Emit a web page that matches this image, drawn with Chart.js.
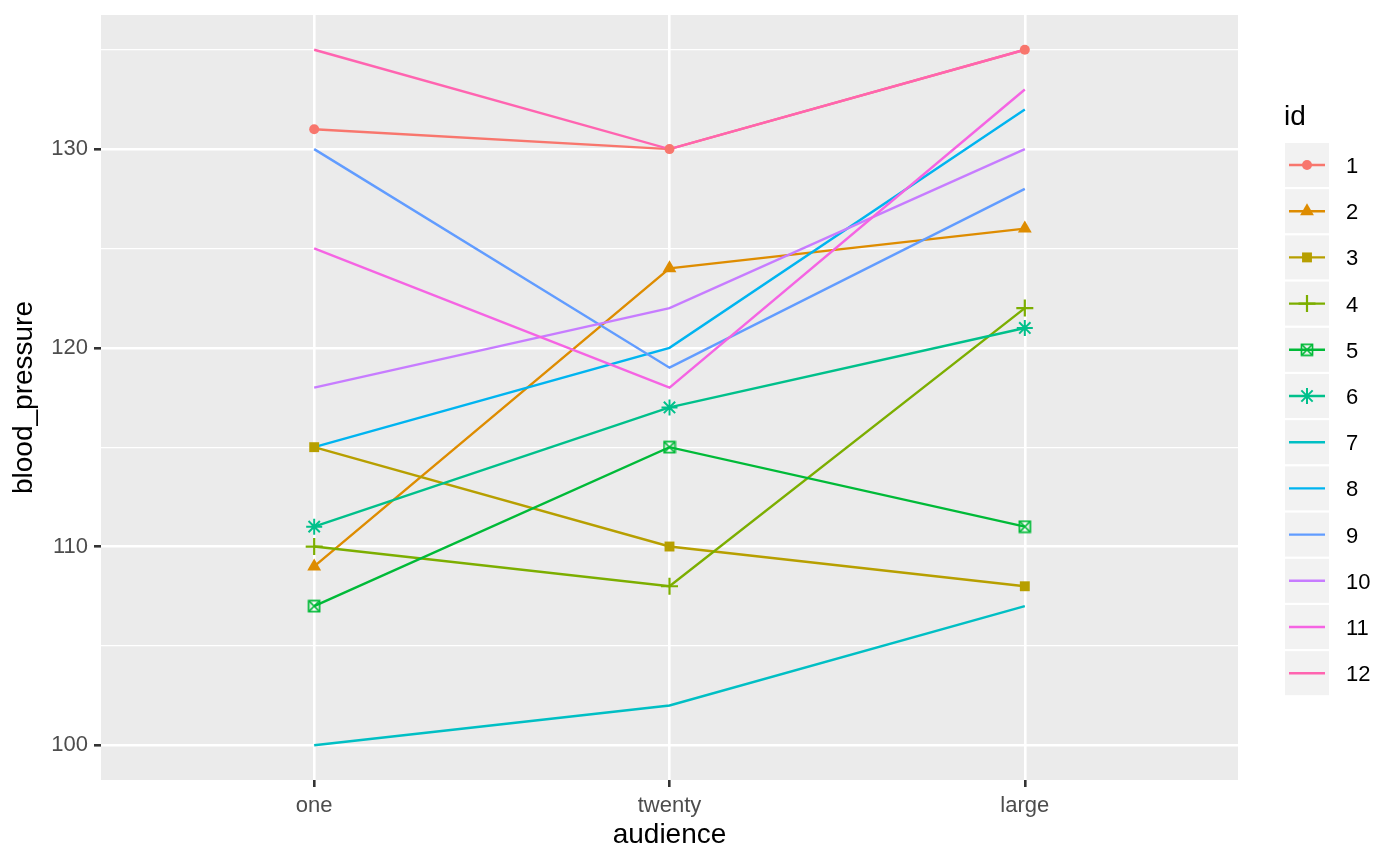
<!DOCTYPE html>
<html>
<head>
<meta charset="utf-8">
<script src="https://cdn.jsdelivr.net/npm/chart.js@4.4.1/dist/chart.umd.min.js"></script>
<style>
html,body{margin:0;padding:0;background:#ffffff;}
#wrap{width:1400px;height:865px;position:relative;}
</style>
</head>
<body>
<div id="wrap"><canvas id="c" width="1400" height="865"></canvas></div>
<script>
// ---- data ----
const categories = ['one', 'twenty', 'large'];
const ids = ['1','2','3','4','5','6','7','8','9','10','11','12'];
const bp1  = [131, 130, 135];
const bp2  = [109, 124, 126];
const bp3  = [115, 110, 108];
const bp4  = [110, 108, 122];
const bp5  = [107, 115, 111];
const bp6  = [111, 117, 121];
const bp7  = [100, 102, 107];
const bp8  = [115, 120, 132];
const bp9  = [130, 119, 128];
const bp10 = [118, 122, 130];
const bp11 = [125, 118, 133];
const bp12 = [135, 130, 135];
const yMajorTicks = [100, 110, 120, 130];
const yMinorTicks = [105, 115, 125, 135];

// ---- styling ----
const series = [bp1,bp2,bp3,bp4,bp5,bp6,bp7,bp8,bp9,bp10,bp11,bp12];
const colors = ['#F8766D','#DE8C00','#B79F00','#7CAE00','#00BA38','#00C08B',
                '#00BFC4','#00B4F0','#619CFF','#C77CFF','#F564E3','#FF64B0'];
const shapes = ['circle','triangle','square','plus','squarecross','asterisk',null,null,null,null,null,null];
const FONT = "'Liberation Sans', Arial, Helvetica, sans-serif";
Chart.defaults.font.family = FONT;

function makeSquareCross(color){
  const cv = document.createElement('canvas');
  cv.width = 14; cv.height = 14;
  const g = cv.getContext('2d');
  g.strokeStyle = color; g.lineWidth = 1.7;
  g.strokeRect(1.5, 1.5, 11, 11);
  g.beginPath();
  g.moveTo(1.5,1.5); g.lineTo(12.5,12.5);
  g.moveTo(12.5,1.5); g.lineTo(1.5,12.5);
  g.stroke();
  return cv;
}
const sqCross = makeSquareCross(colors[4]);

function pointOpts(shape, color){
  switch(shape){
    case 'circle': return {pointStyle:'circle', pointRadius:5, pointBackgroundColor:color, pointBorderColor:color, pointBorderWidth:0};
    case 'triangle': return {pointStyle:'triangle', pointRadius:8, pointBackgroundColor:color, pointBorderColor:color, pointBorderWidth:0};
    case 'square': return {pointStyle:'rect', pointRadius:7, pointBackgroundColor:color, pointBorderColor:color, pointBorderWidth:0};
    case 'plus': return {pointStyle:'cross', pointRadius:8.5, pointBackgroundColor:color, pointBorderColor:color, pointBorderWidth:2.2};
    case 'squarecross': return {pointStyle:sqCross, pointRadius:7, pointBackgroundColor:color, pointBorderColor:color, pointBorderWidth:0};
    case 'asterisk': return {pointStyle:'star', pointRadius:8, pointBackgroundColor:color, pointBorderColor:color, pointBorderWidth:2};
  }
  return {};
}

function drawMarker(ctx, shape, x, y, color){
  ctx.save();
  ctx.fillStyle = color; ctx.strokeStyle = color;
  if(shape==='circle'){
    ctx.beginPath(); ctx.arc(x,y,5,0,Math.PI*2); ctx.fill();
  } else if(shape==='triangle'){
    const r=8;
    ctx.beginPath();
    ctx.moveTo(x, y-r);
    ctx.lineTo(x + r*Math.sin(2*Math.PI/3), y - r*Math.cos(2*Math.PI/3));
    ctx.lineTo(x + r*Math.sin(4*Math.PI/3), y - r*Math.cos(4*Math.PI/3));
    ctx.closePath(); ctx.fill();
  } else if(shape==='square'){
    const s = 7*Math.SQRT1_2;
    ctx.fillRect(x-s, y-s, 2*s, 2*s);
  } else if(shape==='plus'){
    ctx.lineWidth=2.2; ctx.beginPath();
    ctx.moveTo(x-8.5,y); ctx.lineTo(x+8.5,y); ctx.moveTo(x,y-8.5); ctx.lineTo(x,y+8.5); ctx.stroke();
  } else if(shape==='squarecross'){
    ctx.drawImage(sqCross, x-7, y-7);
  } else if(shape==='asterisk'){
    const r=8, d=r*Math.SQRT1_2;
    ctx.lineWidth=2; ctx.beginPath();
    ctx.moveTo(x-r,y); ctx.lineTo(x+r,y); ctx.moveTo(x,y-r); ctx.lineTo(x,y+r);
    ctx.moveTo(x-d,y-d); ctx.lineTo(x+d,y+d); ctx.moveTo(x+d,y-d); ctx.lineTo(x-d,y+d);
    ctx.stroke();
  }
  ctx.restore();
}

const panelBg = {
  id:'panelBg',
  beforeDraw(chart){
    const a = chart.chartArea, ctx = chart.ctx;
    ctx.save(); ctx.fillStyle = '#EBEBEB';
    ctx.fillRect(a.left, a.top, a.right-a.left, a.bottom-a.top);
    ctx.restore();
  }
};

const ggLegend = {
  id:'ggLegend',
  afterDraw(chart){
    const ctx = chart.ctx;
    ctx.save();
    ctx.fillStyle = '#000'; ctx.textAlign = 'left'; ctx.textBaseline = 'alphabetic';
    ctx.font = '28px ' + FONT;
    ctx.fillText('id', 1284, 125);
    ids.forEach((id, i) => {
      const cy = 165 + 46.2*i;
      ctx.fillStyle = '#F2F2F2';
      ctx.fillRect(1285, cy-22, 44, 44);
      ctx.strokeStyle = colors[i]; ctx.lineWidth = 2.4;
      ctx.beginPath(); ctx.moveTo(1289, cy); ctx.lineTo(1325, cy); ctx.stroke();
      if(shapes[i]) drawMarker(ctx, shapes[i], 1307, cy, colors[i]);
      ctx.fillStyle = '#000'; ctx.font = '22px ' + FONT; ctx.textBaseline = 'alphabetic';
      ctx.fillText(id, 1346, cy + 8);
    });
    ctx.restore();
  }
};

const lineSets = series.map((arr, i) => ({
  label: ids[i],
  data: arr.map((v, j) => ({x: j, y: v})),
  showLine: true,
  borderColor: colors[i],
  backgroundColor: colors[i],
  borderWidth: 2.4,
  pointRadius: 0,
  pointHoverRadius: 0,
  tension: 0,
  fill: false,
  order: 100 + (11 - i)
}));
const pointSets = [];
series.forEach((arr, i) => {
  if(!shapes[i]) return;
  pointSets.push(Object.assign({
    label: ids[i] + ' pts',
    data: arr.map((v, j) => ({x: j, y: v})),
    showLine: false,
    borderColor: colors[i],
    backgroundColor: colors[i],
    order: i
  }, pointOpts(shapes[i], colors[i])));
});

new Chart(document.getElementById('c'), {
  type: 'scatter',
  data: { datasets: lineSets.concat(pointSets) },
  options: {
    responsive: false,
    animation: false,
    devicePixelRatio: 1,
    layout: { padding: { left: 0, right: 162, top: 15, bottom: 0 } },
    plugins: { legend: { display: false }, tooltip: { enabled: false } },
    events: [],
    scales: {
      x: {
        type: 'linear', min: -0.6, max: 2.6,
        afterBuildTicks: s => { s.ticks = categories.map((c, i) => ({value: i})); },
        afterFit: s => { s.height = 85; },
        ticks: { callback: v => categories[v] !== undefined ? categories[v] : '', color: '#4D4D4D', font: {size: 22}, padding: 6, autoSkip: false, maxRotation: 0 },
        grid: { color: '#FFFFFF', lineWidth: 2.6, tickColor: '#333333', tickLength: 7, tickWidth: 2.6 },
        border: { display: false },
        title: { display: true, text: 'audience', color: '#000000', font: {size: 28}, padding: {top: 0, bottom: 13} }
      },
      y: {
        type: 'linear', min: 98.25, max: 136.75,
        afterBuildTicks: s => { s.ticks = yMajorTicks.concat(yMinorTicks).sort((a, b) => a - b).map(v => ({value: v})); },
        afterFit: s => { s.width = 101; },
        ticks: { callback: v => yMajorTicks.includes(v) ? String(v) : '', color: '#4D4D4D', font: {size: 22, lineHeight: 0.6}, padding: 6, autoSkip: false },
        grid: {
          color: '#FFFFFF',
          lineWidth: c => (c.tick && yMajorTicks.includes(c.tick.value)) ? 2.6 : 1.3,
          tickColor: c => (c.tick && yMajorTicks.includes(c.tick.value)) ? '#333333' : 'rgba(0,0,0,0)',
          tickLength: 7, tickWidth: 2.6
        },
        border: { display: false },
        title: { display: true, text: 'blood_pressure', color: '#000000', font: {size: 28}, padding: {top: 7, bottom: 0} }
      }
    }
  },
  plugins: [panelBg, ggLegend]
});
</script>
</body>
</html>
